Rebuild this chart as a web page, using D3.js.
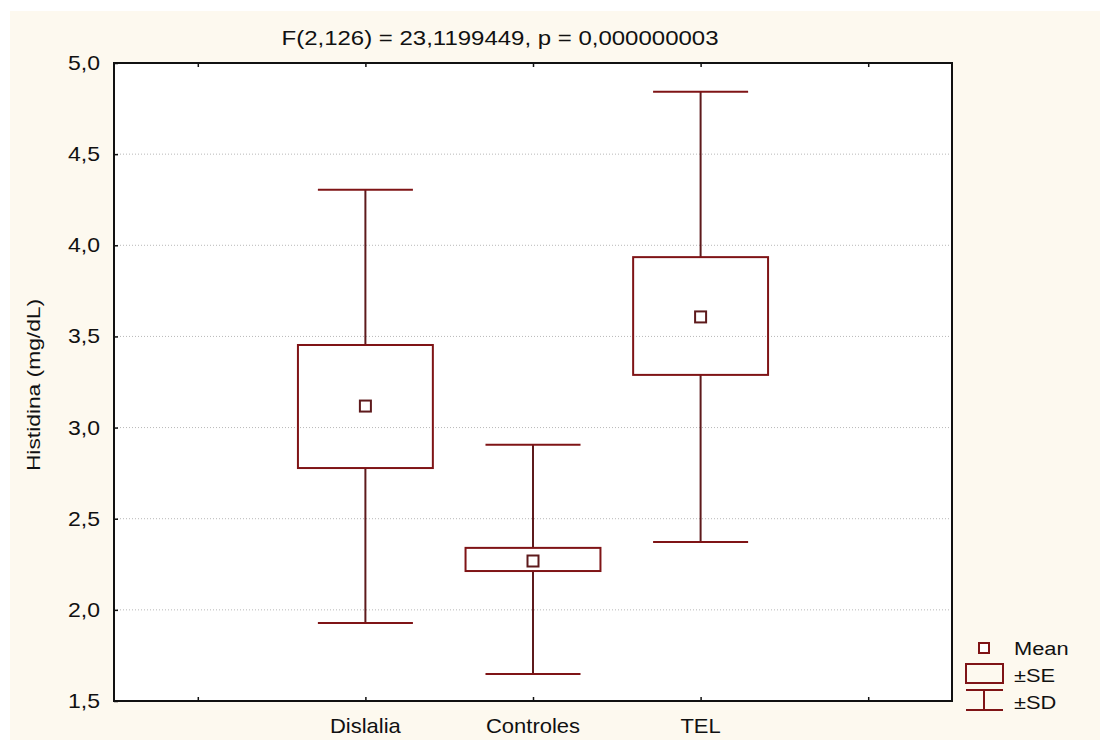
<!DOCTYPE html>
<html>
<head>
<meta charset="utf-8">
<script src="https://cdn.jsdelivr.net/npm/d3@7"></script>
<style>
  body { margin: 0; background: #fff; }
  text { font-family: "Liberation Sans", Arial, sans-serif; fill: #111; }
</style>
</head>
<body>
<svg id="chart"></svg>
<script>
// slots along x: empty, three groups, empty
const slotLabels = ["", "Dislalia", "Controles", "TEL", ""];
const groups = ["Dislalia", "Controles", "TEL"];
const groupSlot = [1, 2, 3];
const means = [3.118, 2.268, 3.607];
const seLow = [2.778, 2.213, 3.289];
const seHigh = [3.453, 2.340, 3.935];
const sdLow = [1.928, 1.648, 2.372];
const sdHigh = [4.305, 2.906, 4.842];
const yTicks = [1.5, 2.0, 2.5, 3.0, 3.5, 4.0, 4.5, 5.0];

const W = 1100, H = 740;
const plot = { left: 114, top: 63, right: 952, bottom: 701 };
const red = "#7f1416";
const sx = 1.15; // the source text is a little wider than Liberation Sans

const svg = d3.select("#chart").attr("width", W).attr("height", H);

svg.append("rect")
  .attr("x", 10).attr("y", 11)
  .attr("width", W - 10).attr("height", H - 11)
  .attr("fill", "#fdf9ef");

svg.append("rect")
  .attr("x", plot.left).attr("y", plot.top)
  .attr("width", plot.right - plot.left).attr("height", plot.bottom - plot.top)
  .attr("fill", "#fff");

const x = d3.scalePoint()
  .domain(d3.range(slotLabels.length))
  .range([plot.left, plot.right])
  .padding(0.5);

const y = d3.scaleLinear()
  .domain([1.5, 5.0])
  .range([plot.bottom, plot.top]);

const fmt = d => d3.format(".1f")(d).replace(".", ",");

// grid lines
svg.append("g")
  .selectAll("line")
  .data(yTicks.filter(d => d > 1.5 && d < 5.0))
  .join("line")
  .attr("x1", plot.left).attr("x2", plot.right)
  .attr("y1", d => y(d)).attr("y2", d => y(d))
  .attr("stroke", "#b8b8b8")
  .attr("stroke-width", 1)
  .attr("stroke-dasharray", "1,2");

// axes
const yAxis = svg.append("g")
  .attr("transform", `translate(${plot.left},0)`)
  .call(d3.axisRight(y).tickValues(yTicks).tickSize(4).tickFormat(""));
yAxis.select(".domain").remove();

svg.append("g")
  .selectAll("text")
  .data(yTicks)
  .join("text")
  .attr("transform", d => `translate(100,${y(d)}) scale(${sx},1)`)
  .attr("dy", "0.35em")
  .attr("text-anchor", "end")
  .attr("font-size", 20)
  .text(fmt);

const xBottom = svg.append("g")
  .attr("transform", `translate(0,${plot.bottom})`)
  .call(d3.axisTop(x).tickSize(4).tickFormat(""));
xBottom.select(".domain").remove();

const xTop = svg.append("g")
  .attr("transform", `translate(0,${plot.top})`)
  .call(d3.axisBottom(x).tickSize(4).tickFormat(""));
xTop.select(".domain").remove();

svg.selectAll(".tick line").attr("stroke", "#111").attr("stroke-width", 1.5);

svg.append("g")
  .selectAll("text")
  .data(slotLabels)
  .join("text")
  .attr("transform", (d, i) => `translate(${x(i)},733) scale(1.1,1)`)
  .attr("text-anchor", "middle")
  .attr("font-size", 20)
  .text(d => d);

// frame
svg.append("rect")
  .attr("x", plot.left).attr("y", plot.top)
  .attr("width", plot.right - plot.left).attr("height", plot.bottom - plot.top)
  .attr("fill", "none")
  .attr("stroke", "#111")
  .attr("stroke-width", 2);

// boxes
const boxW = x.step() * 0.805;
const capW = x.step() * 0.567;

const g = svg.append("g")
  .selectAll("g")
  .data(groups.map((name, i) => ({
    name, slot: groupSlot[i], mean: means[i],
    seLow: seLow[i], seHigh: seHigh[i], sdLow: sdLow[i], sdHigh: sdHigh[i]
  })))
  .join("g")
  .attr("transform", d => `translate(${x(d.slot)},0)`);

g.append("line")
  .attr("x1", 0).attr("x2", 0)
  .attr("y1", d => y(d.sdHigh)).attr("y2", d => y(d.seHigh))
  .attr("stroke", "#5e1a1c").attr("stroke-width", 2);
g.append("line")
  .attr("x1", 0).attr("x2", 0)
  .attr("y1", d => y(d.seLow)).attr("y2", d => y(d.sdLow))
  .attr("stroke", "#5e1a1c").attr("stroke-width", 2);
g.append("line")
  .attr("x1", -capW / 2).attr("x2", capW / 2)
  .attr("y1", d => y(d.sdHigh)).attr("y2", d => y(d.sdHigh))
  .attr("stroke", red).attr("stroke-width", 2);
g.append("line")
  .attr("x1", -capW / 2).attr("x2", capW / 2)
  .attr("y1", d => y(d.sdLow)).attr("y2", d => y(d.sdLow))
  .attr("stroke", red).attr("stroke-width", 2);
g.append("rect")
  .attr("x", -boxW / 2).attr("width", boxW)
  .attr("y", d => y(d.seHigh))
  .attr("height", d => y(d.seLow) - y(d.seHigh))
  .attr("fill", "none")
  .attr("stroke", red).attr("stroke-width", 2);
g.append("rect")
  .attr("x", -5.5).attr("width", 11)
  .attr("y", d => y(d.mean) - 5.5).attr("height", 11)
  .attr("fill", "#fff")
  .attr("stroke", "#5e1a1c").attr("stroke-width", 2);

// title
svg.append("text")
  .attr("transform", "translate(500,45) scale(1.2,1)")
  .attr("text-anchor", "middle")
  .attr("font-size", 20)
  .text("F(2,126) = 23,1199449, p = 0,000000003");

svg.append("text")
  .attr("transform", "translate(40,385) rotate(-90) scale(1.2,1)")
  .attr("text-anchor", "middle")
  .attr("font-size", 19)
  .text("Histidina (mg/dL)");

// legend
const lg = svg.append("g");
lg.append("rect").attr("x", 979).attr("y", 643).attr("width", 10).attr("height", 10)
  .attr("fill", "#fff").attr("stroke", red).attr("stroke-width", 2);
lg.append("rect").attr("x", 966).attr("y", 664).attr("width", 37).attr("height", 19)
  .attr("fill", "none").attr("stroke", red).attr("stroke-width", 2);
lg.append("line").attr("x1", 966).attr("x2", 1003).attr("y1", 690).attr("y2", 690)
  .attr("stroke", red).attr("stroke-width", 2);
lg.append("line").attr("x1", 966).attr("x2", 1003).attr("y1", 710).attr("y2", 710)
  .attr("stroke", red).attr("stroke-width", 2);
lg.append("line").attr("x1", 984).attr("x2", 984).attr("y1", 690).attr("y2", 710)
  .attr("stroke", red).attr("stroke-width", 2);
lg.selectAll("text")
  .data(["Mean", "±SE", "±SD"])
  .join("text")
  .attr("transform", (d, i) => `translate(1014,${655 + i * 27}) scale(${sx},1)`)
  .attr("font-size", 19)
  .text(d => d);
</script>
</body>
</html>
